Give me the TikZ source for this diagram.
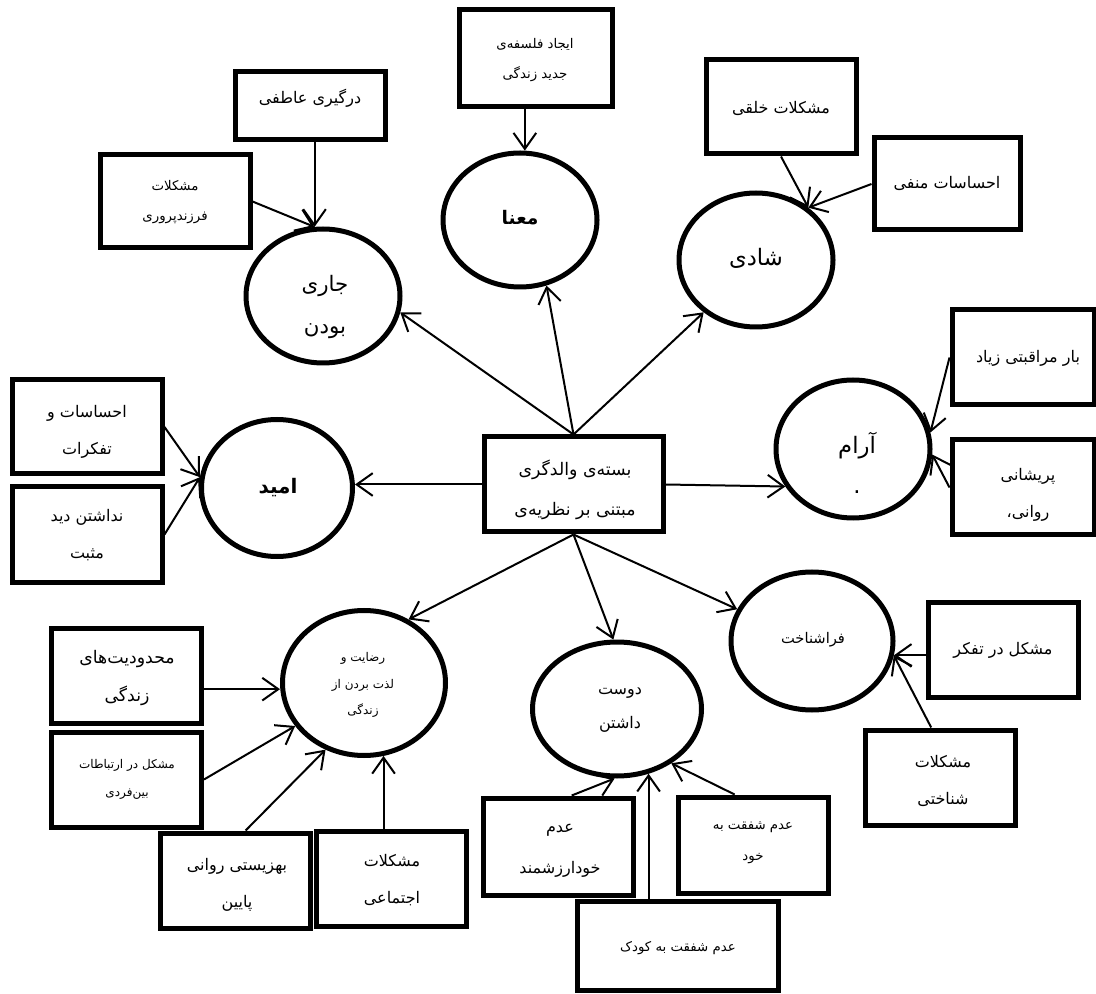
\documentclass[tikz,border=0pt]{standalone}
\usepackage{fontspec}
\usepackage{tikz}
\usetikzlibrary{shapes.geometric,arrows.meta}
\TeXXeTstate=1
\newfontfamily\arabicfont[Script=Arabic]{DejaVu Sans}
\newcommand{\rl}[1]{\beginR #1\endR}

\begin{document}
\begin{tikzpicture}[x=0.75pt,y=0.75pt,yscale=-1,xscale=1,
  box/.style={draw, rectangle, line width=3.75pt, minimum width=112.5pt, minimum height=71.25pt, inner sep=0pt},
  ell/.style={draw, ellipse, line width=3.75pt, minimum width=115.5pt, minimum height=100.5pt, inner sep=0pt},
  arr/.style={line width=1.5pt, -{Straight Barb[length=12pt,width=17pt]}},
  txt/.style={font=\fontsize{12}{28}\selectfont\arabicfont, align=center, inner sep=0pt},
  txts/.style={font=\fontsize{10}{23}\selectfont\arabicfont, align=center, inner sep=0pt},
  txtb/.style={font=\fontsize{17}{30}\selectfont\arabicfont, align=center, inner sep=0pt}]
\useasboundingbox (0,0) rectangle (1096,994);

%Shape: Rectangle (center)
\node[box, minimum width=134.25pt] (b_main) at (573.5,484.5) {};

%Shape: Ellipse
\node[ell] (e_jari) at (323,296) {};
\node[ell] (e_mana) at (520,220) {};
\node[ell] (e_shadi) at (756,260) {};
\node[ell, minimum width=113.25pt, minimum height=102.75pt] (e_omid) at (277,488) {};
\node[ell, minimum height=103.5pt] (e_aram) at (853,449) {};
\node[ell, minimum width=122.25pt, minimum height=108.75pt] (e_rezayat) at (364,683) {};
\node[ell, minimum width=126.75pt] (e_doost) at (617,709) {};
\node[ell, minimum width=121.5pt, minimum height=103.5pt] (e_fara) at (812,641) {};

%Shape: Rectangle
\node[box, minimum height=51pt] (b_dargiri) at (310,106) {};
\node[box, minimum height=69.75pt] (b_farzand) at (175,201.5) {};
\node[box, minimum width=114.75pt, minimum height=72.75pt] (b_ijad) at (535.5,58.5) {};
\node[box, minimum height=70.5pt] (b_kholghi) at (781,107) {};
\node[box, minimum width=109.5pt, minimum height=69pt] (b_manfi) at (947,184) {};
\node[box, minimum width=106.5pt] (b_bar) at (1023,357.5) {};
\node[box, minimum width=106.5pt] (b_parishani) at (1023,487.5) {};
\node[box, minimum height=70.5pt] (b_ehsasat) at (87,427) {};
\node[box] (b_nadashtan) at (87,534.5) {};
\node[box] (b_mahdud) at (126.5,675.5) {};
\node[box] (b_ertebat) at (126.5,779.5) {};
\node[box] (b_behzisti) at (235,880.5) {};
\node[box] (b_ejtemai) at (391,878.5) {};
\node[box, minimum height=72.75pt] (b_khodarzesh) at (558,846.5) {};
\node[box, minimum height=72pt] (b_khod) at (753,845) {};
\node[box, minimum width=150.75pt, minimum height=66.75pt] (b_kudak) at (677.5,945.5) {};
\node[box] (b_tafakkor) at (1003,649.5) {};
\node[box] (b_shenakhti) at (940,777.5) {};

%Straight Lines
\draw[arr] (b_dargiri.south -| e_jari.97) -- (e_jari.97);
\draw[arr] (b_farzand.east) -- (e_jari.97);
\draw[arr] (b_ijad.south -| e_mana.86) -- (e_mana.86);
\draw[arr] (b_kholghi.south) -- (e_shadi.45);
\draw[arr] (b_manfi.west) -- (e_shadi.45);
\draw[arr] (b_bar.west) -- (e_aram.12);
\draw[arr] (b_parishani.west) -- (e_aram.356);
\draw[arr] (b_ehsasat.east) -- (e_omid.172);
\draw[arr] (b_nadashtan.east) -- (e_omid.172);
\draw[arr] (b_main.west) -- (b_main.west -| e_omid.east);
\draw[arr] (b_main.east) -- (e_aram.209);
\draw[arr] (b_main.north) -- (e_jari.348);
\draw[arr] (b_main.north) -- (e_mana.292);
\draw[arr] (b_main.north) -- (e_shadi.225);
\draw[arr] (b_main.south) -- (e_rezayat.55);
\draw[arr] (b_main.south) -- (e_doost.93);
\draw[arr] (b_main.south) -- (e_fara.157);
\draw[arr] (b_mahdud.350) -- (b_mahdud.350 -| e_rezayat.west);
\draw[arr] (b_ertebat.east) -- (e_rezayat.212);
\draw[arr] (b_behzisti.78) -- (e_rezayat.240);
\draw[arr] (b_ejtemai.north -| e_rezayat.285) -- (e_rezayat.285);
\draw[arr] (b_khodarzesh.75) -- (e_doost.268);
\draw[arr] (b_kudak.north -| e_doost.296) -- (e_doost.296);
\draw[arr] (b_khod.110) -- (e_doost.315);
\draw[arr] (b_tafakkor.west |- e_fara.350) -- (e_fara.350);
\draw[arr] (b_shenakhti.100) -- (e_fara.350);

% Text Node
\node[txt, font=\fontsize{13}{30}\selectfont\arabicfont] (t_main) at (575,490) {\rl{بسته‌ی والدگری}\\\rl{مبتنی بر نظریه‌ی}};
% Text Node
\node[txt, font=\fontsize{16}{31}\selectfont\arabicfont] (t_jari) at (325,307) {\rl{جاری}\\\rl{بودن}};
% Text Node
\node[txtb, font=\fontsize{14}{30}\selectfont\arabicfont\bfseries] (t_mana) at (520,218) {\rl{معنا}};
% Text Node
\node[txtb] (t_shadi) at (756,258) {\rl{شادی}};
% Text Node
\node[txtb, font=\fontsize{15}{30}\selectfont\arabicfont\bfseries] (t_omid) at (278,488) {\rl{امید}};
% Text Node
\node[txtb] (t_aram) at (857,463) {\rl{آرام}\\.};
% Text Node
\node[txts, font=\fontsize{9}{20}\selectfont\arabicfont] (t_rezayat) at (363,685) {\rl{رضایت و}\\\rl{لذت بردن از}\\\rl{زندگی}};
% Text Node
\node[txt, font=\fontsize{12}{26}\selectfont\arabicfont] (t_doost) at (620,710) {\rl{دوست}\\\rl{داشتن}};
% Text Node
\node[txts, font=\fontsize{11}{23}\selectfont\arabicfont] (t_fara) at (813,640) {\rl{فراشناخت}};
% Text Node
\node[txt] (t_dargiri) at (310,98) {\rl{درگیری عاطفی}};
% Text Node
\node[txts] (t_farzand) at (175,202) {\rl{مشکلات}\\\rl{فرزندپروری}};
% Text Node
\node[txts] (t_ijad) at (535,60) {\rl{ایجاد فلسفه‌ی}\\\rl{جدید زندگی}};
% Text Node
\node[txt] (t_kholghi) at (781,108) {\rl{مشکلات خلقی}};
% Text Node
\node[txt] (t_manfi) at (947,183) {\rl{احساسات منفی}};
% Text Node
\node[txt] (t_bar) at (1028,358) {\rl{بار مراقبتی زیاد}};
% Text Node
\node[txt] (t_parishani) at (1028,495) {\rl{پریشانی}\\\rl{روانی،}};
% Text Node
\node[txt] (t_ehsasat) at (87,432) {\rl{احساسات و}\\\rl{تفکرات}};
% Text Node
\node[txt] (t_nadashtan) at (87,535) {\rl{نداشتن دید}\\\rl{مثبت}};
% Text Node
\node[txt, font=\fontsize{13}{29}\selectfont\arabicfont] (t_mahdud) at (127,678) {\rl{محدودیت‌های}\\\rl{زندگی}};
% Text Node
\node[txts, font=\fontsize{9}{21}\selectfont\arabicfont] (t_ertebat) at (127,779) {\rl{مشکل در ارتباطات}\\\rl{بین‌فردی}};
% Text Node
\node[txt] (t_behzisti) at (237,885) {\rl{بهزیستی روانی}\\\rl{پایین}};
% Text Node
\node[txt] (t_ejtemai) at (392,880) {\rl{مشکلات}\\\rl{اجتماعی}};
% Text Node
\node[txt, font=\fontsize{12}{31}\selectfont\arabicfont] (t_khodarzesh) at (560,851) {\rl{عدم}\\\rl{خودارزشمند}};
% Text Node
\node[txts] (t_khod) at (753,843) {\rl{عدم شفقت به}\\\rl{خود}};
% Text Node
\node[txts] (t_kudak) at (678,948) {\rl{عدم شفقت به کودک}};
% Text Node
\node[txt] (t_tafakkor) at (1003,650) {\rl{مشکل در تفکر}};
% Text Node
\node[txt] (t_shenakhti) at (943,781) {\rl{مشکلات}\\\rl{شناختی}};

\end{tikzpicture}
\end{document}
